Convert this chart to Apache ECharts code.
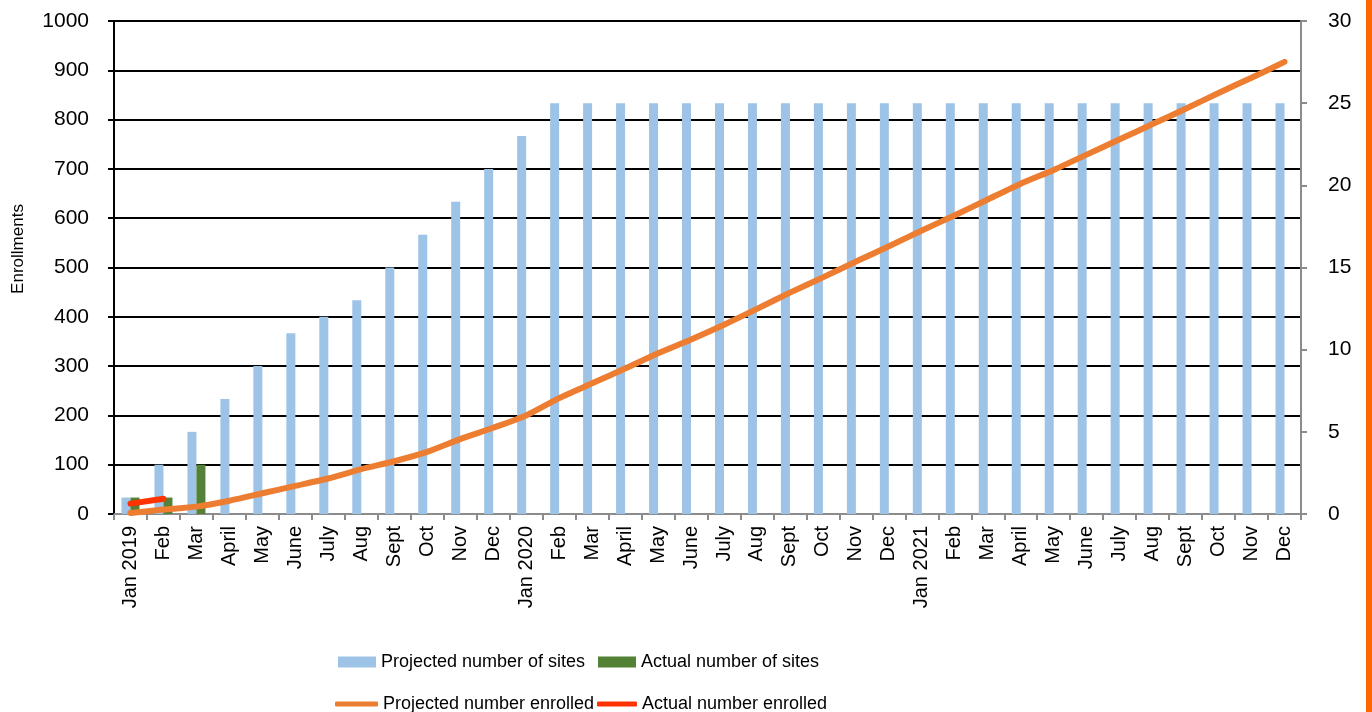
<!DOCTYPE html>
<html>
<head>
<meta charset="utf-8">
<script src="https://cdn.jsdelivr.net/npm/echarts@6/dist/echarts.min.js"></script>
<style>
  html, body { margin: 0; padding: 0; background: #fff; }
  #chart { width: 1372px; height: 712px; }
</style>
</head>
<body>
<div id="chart"></div>
<script>
const months = [
  "Jan 2019", "Feb", "Mar", "April", "May", "June", "July", "Aug", "Sept", "Oct", "Nov", "Dec",
  "Jan 2020", "Feb", "Mar", "April", "May", "June", "July", "Aug", "Sept", "Oct", "Nov", "Dec",
  "Jan 2021", "Feb", "Mar", "April", "May", "June", "July", "Aug", "Sept", "Oct", "Nov", "Dec"
];
// categories repeat names, so index them
const categories = months.map((m, i) => i);

const projectedSites = [
  1, 3, 5, 7, 9, 11, 12, 13, 15, 17, 19, 21,
  23, 25, 25, 25, 25, 25, 25, 25, 25, 25, 25, 25,
  25, 25, 25, 25, 25, 25, 25, 25, 25, 25, 25, 25
];
const actualSites = [1, 1, 3];
const projectedEnrolled = [
  2, 9, 15, 27, 42, 57, 72, 91, 107, 126, 152, 175,
  200, 235, 265, 295, 326, 354, 384, 416, 449, 480, 512, 543,
  575, 606, 638, 670, 698, 729, 760, 791, 822, 854, 885, 917
];
const actualEnrolled = [21, 31];

const leftTicks = { min: 0, max: 1000, interval: 100 };
const rightTicks = { min: 0, max: 30, interval: 5 };

document.addEventListener("DOMContentLoaded", function () {
  const chartElem = document.getElementById("chart");
  const chart = echarts.init(chartElem);
  const font = "Liberation Sans";
  const legendText = { fontFamily: font, fontSize: 18, color: "#000" };

  const option = {
    animation: false,
    backgroundColor: "#fff",
    grid: { left: 114, right: 71, top: 21, bottom: 198, outerBoundsMode: "none", containLabel: false },
    legend: [
      {
        data: ["Projected number of sites"], left: 333, top: 648,
        itemWidth: 38, itemHeight: 11, icon: "rect", textStyle: legendText
      },
      {
        data: ["Actual number of sites"], left: 593, top: 648,
        itemWidth: 38, itemHeight: 11, icon: "rect", textStyle: legendText
      },
      {
        data: ["Projected number enrolled"], left: 330, top: 690,
        itemWidth: 43, itemHeight: 5, icon: "roundRect", textStyle: legendText
      },
      {
        data: ["Actual number enrolled"], left: 592, top: 690,
        itemWidth: 40, itemHeight: 5, icon: "roundRect", textStyle: legendText
      }
    ],
    xAxis: {
      type: "category",
      data: categories,
      boundaryGap: true,
      axisLine: { lineStyle: { color: "#8c8c8c", width: 2 } },
      axisTick: { show: true, interval: 0, length: 6, lineStyle: { color: "#8c8c8c", width: 2 } },
      axisLabel: {
        interval: 0, rotate: 90, margin: 12,
        fontFamily: font, fontSize: 20, color: "#000",
        formatter: function (v) { return months[v]; }
      },
      splitLine: { show: false }
    },
    yAxis: [
      {
        type: "value",
        min: leftTicks.min, max: leftTicks.max, interval: leftTicks.interval,
        axisLine: { show: true, lineStyle: { color: "#000", width: 2 } },
        axisTick: { show: true, length: 6, lineStyle: { color: "#000", width: 2 } },
        axisLabel: {
          margin: 25, fontFamily: font, fontSize: 21, color: "#000",
          formatter: function (v) { return String(v); }
        },
        splitLine: { show: true, lineStyle: { color: "#000", width: 2 } }
      },
      {
        type: "value",
        min: rightTicks.min, max: rightTicks.max, interval: rightTicks.interval,
        position: "right",
        axisLine: { show: true, lineStyle: { color: "#8c8c8c", width: 2 } },
        axisTick: { show: true, length: 6, lineStyle: { color: "#8c8c8c", width: 2 } },
        axisLabel: { margin: 27, fontFamily: font, fontSize: 21, color: "#000" },
        splitLine: { show: false }
      }
    ],
    series: [
      {
        name: "Projected number of sites",
        type: "bar",
        yAxisIndex: 1,
        data: projectedSites,
        barWidth: 9,
        barGap: "0%",
        itemStyle: { color: "#9DC3E6" }
      },
      {
        name: "Actual number of sites",
        type: "bar",
        yAxisIndex: 1,
        data: actualSites,
        barWidth: 9,
        itemStyle: { color: "#538135" }
      },
      {
        name: "Projected number enrolled",
        type: "line",
        yAxisIndex: 0,
        data: projectedEnrolled,
        symbol: "none",
        smooth: 0.2,
        lineStyle: { color: "#ED7D31", width: 6, cap: "round" },
        itemStyle: { color: "#ED7D31" }
      },
      {
        name: "Actual number enrolled",
        type: "line",
        yAxisIndex: 0,
        data: actualEnrolled,
        symbol: "none",
        lineStyle: { color: "#FF3300", width: 6, cap: "round" },
        itemStyle: { color: "#FF3300" }
      }
    ],
    graphic: [
      {
        // y axis title, sits a little above the axis middle
        type: "text",
        x: 18, y: 249,
        rotation: Math.PI / 2,
        style: {
          text: "Enrollments", fontFamily: font, fontSize: 17, fill: "#000",
          align: "center", verticalAlign: "middle"
        },
        originX: 0, originY: 0
      },
      {
        type: "rect",
        right: 0, top: 0,
        shape: { width: 6, height: 712 },
        style: { fill: "#FF6600" }
      }
    ]
  };
  chart.setOption(option);
  window.addEventListener("resize", function () {
    chart.resize();
  });
});
</script>
</body>
</html>
